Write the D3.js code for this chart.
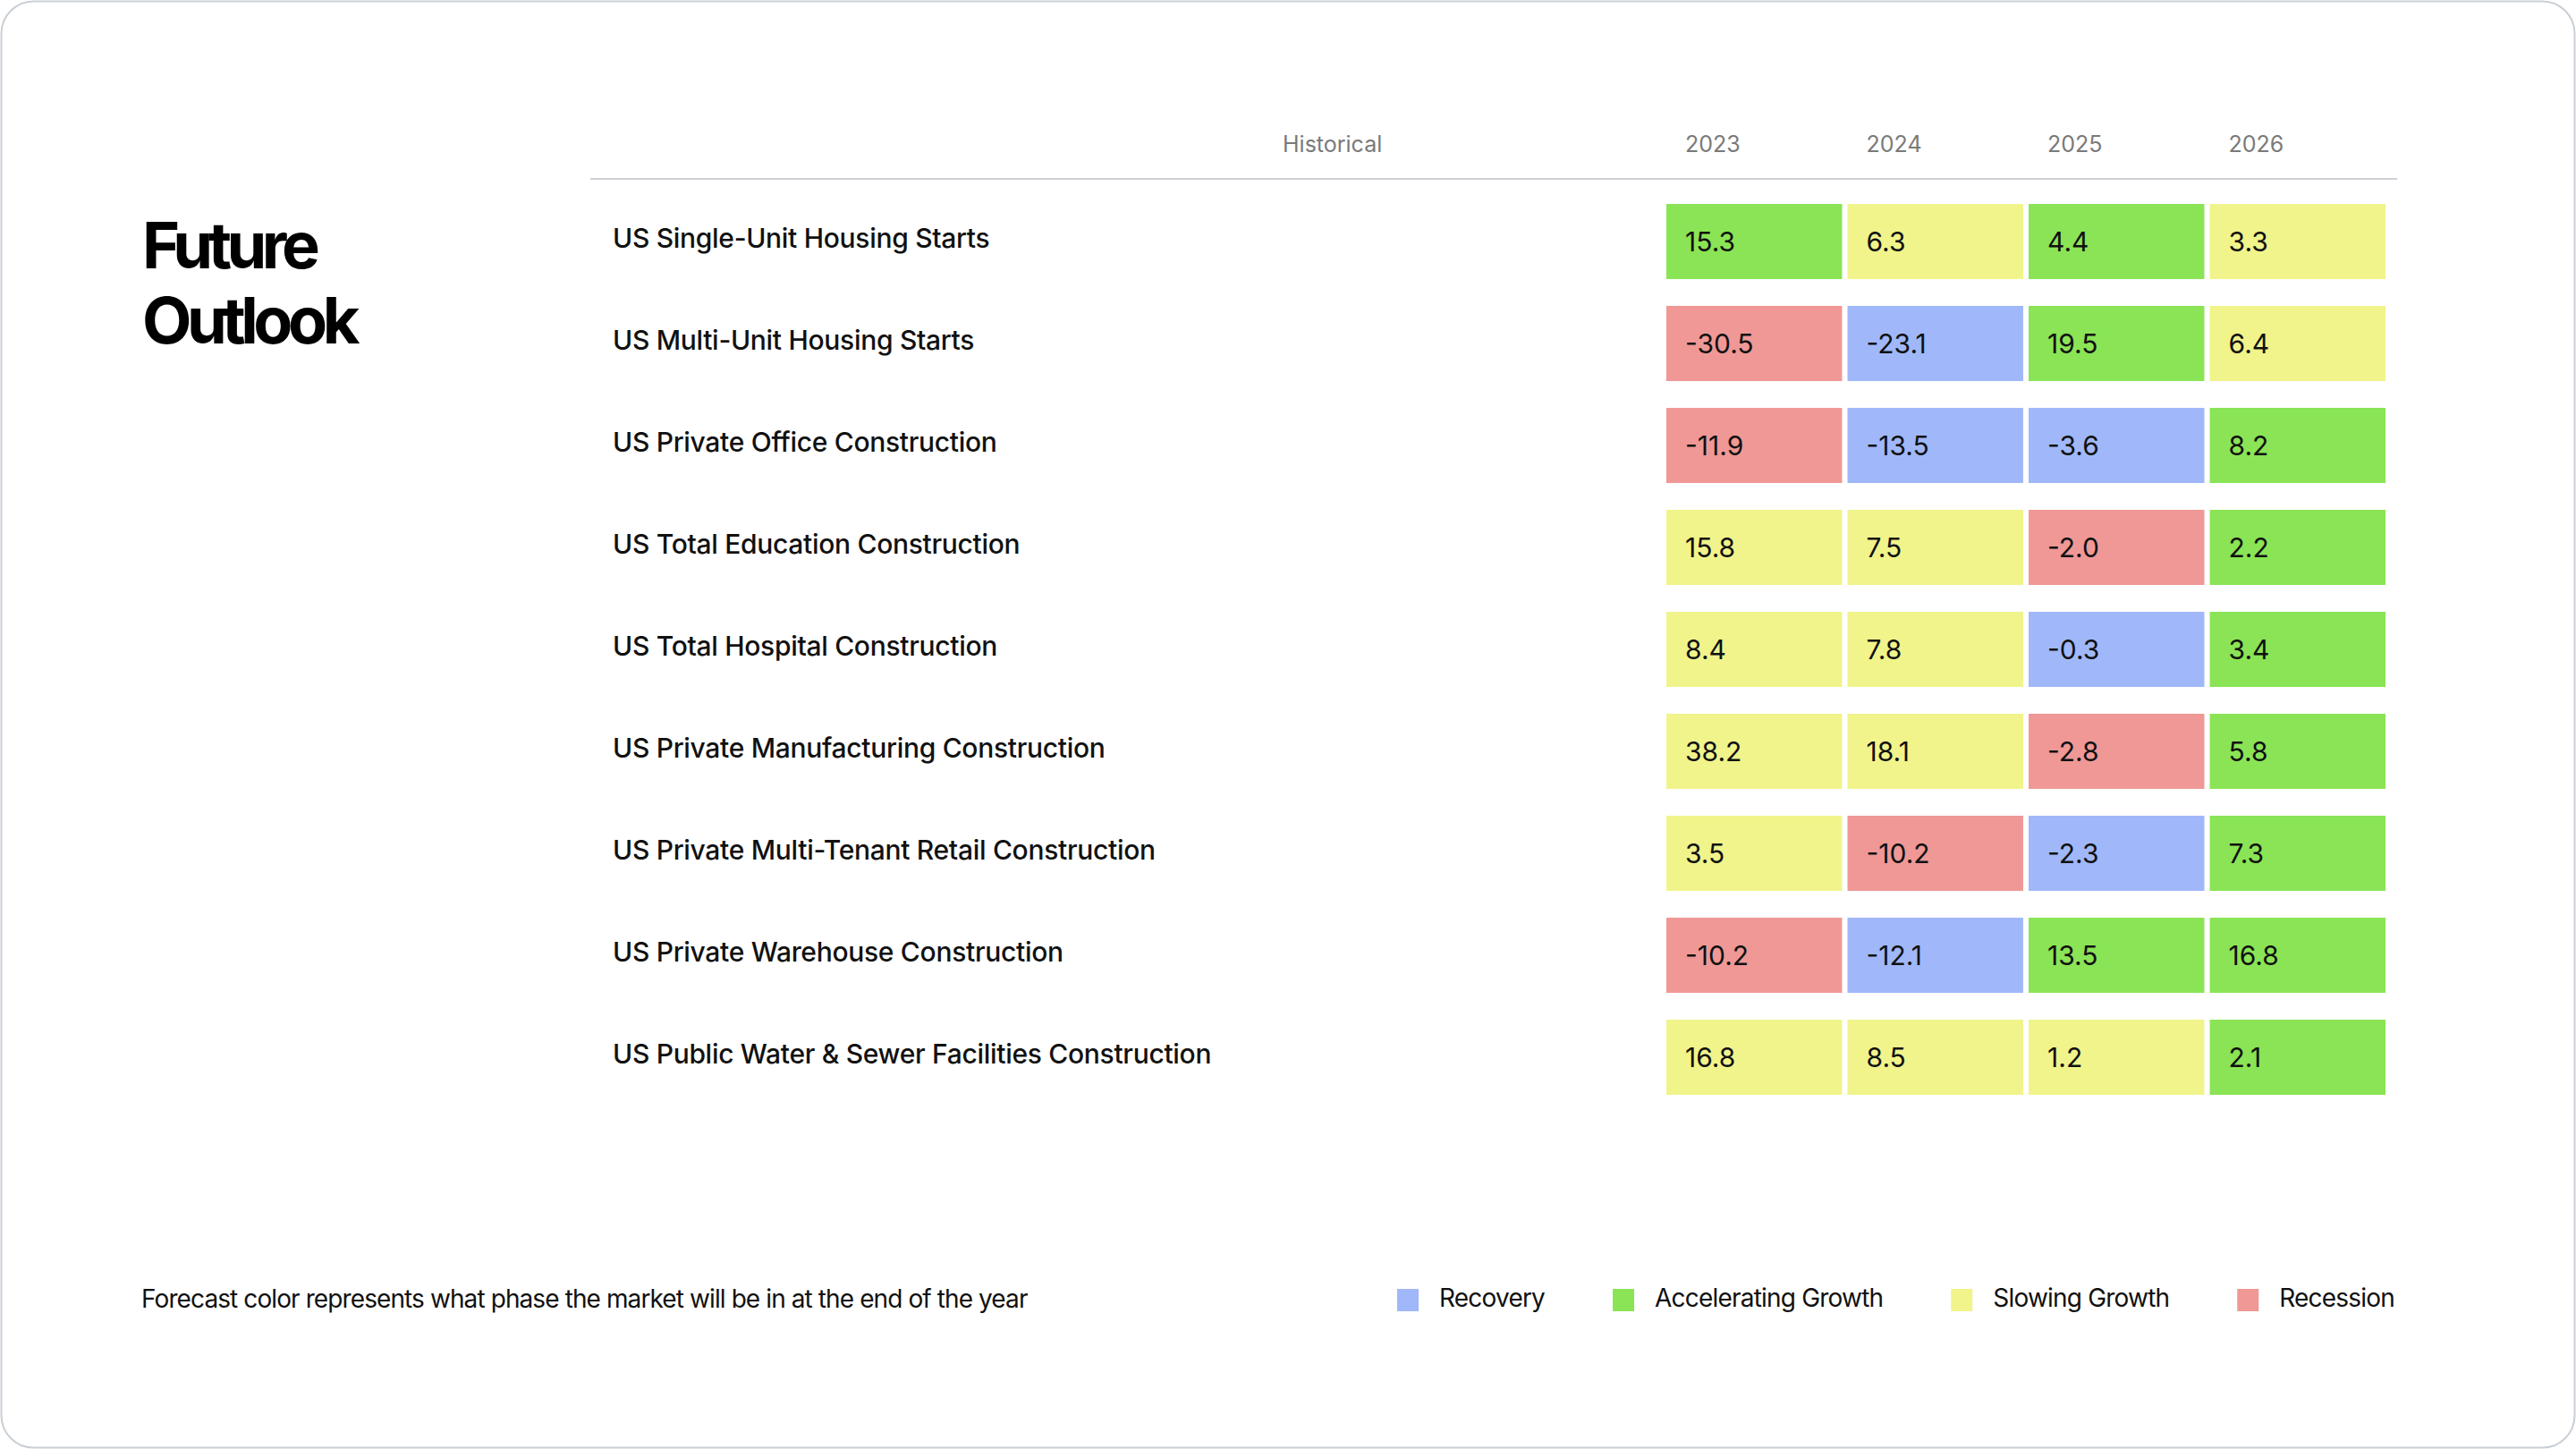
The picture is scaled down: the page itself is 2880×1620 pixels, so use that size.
<!DOCTYPE html>
<html>
<head>
<meta charset="utf-8">
<script src="https://cdn.jsdelivr.net/npm/d3@7/dist/d3.min.js"></script>
<style>
  html, body { margin: 0; padding: 0; background: #ffffff; }
  svg { display: block; }
  text { font-family: Inter, "Noto Sans", sans-serif; }
</style>
</head>
<body>
<svg id="chart" width="2880" height="1620"></svg>
<script>
// ---------- data ----------
const categories = [
  "US Single-Unit Housing Starts",
  "US Multi-Unit Housing Starts",
  "US Private Office Construction",
  "US Total Education Construction",
  "US Total Hospital Construction",
  "US Private Manufacturing Construction",
  "US Private Multi-Tenant Retail Construction",
  "US Private Warehouse Construction",
  "US Public Water & Sewer Facilities Construction"
];
const years = ["2023", "2024", "2025", "2026"];
const historicalLabel = "Historical";

const values2023 = [15.3, -30.5, -11.9, 15.8, 8.4, 38.2, 3.5, -10.2, 16.8];
const values2024 = [6.3, -23.1, -13.5, 7.5, 7.8, 18.1, -10.2, -12.1, 8.5];
const values2025 = [4.4, 19.5, -3.6, -2.0, -0.3, -2.8, -2.3, 13.5, 1.2];
const values2026 = [3.3, 6.4, 8.2, 2.2, 3.4, 5.8, 7.3, 16.8, 2.1];

// phase codes: R = Recovery, A = Accelerating Growth, S = Slowing Growth, X = Recession
const phases2023 = ["A", "X", "X", "S", "S", "S", "S", "X", "S"];
const phases2024 = ["S", "R", "R", "S", "S", "S", "X", "R", "S"];
const phases2025 = ["A", "A", "R", "X", "R", "X", "R", "A", "S"];
const phases2026 = ["S", "S", "A", "A", "A", "A", "A", "A", "A"];

const phaseKeys = ["R", "A", "S", "X"];
const phaseNames = ["Recovery", "Accelerating Growth", "Slowing Growth", "Recession"];
const phaseColors = ["#a0b8f9", "#8ae455", "#f0f48b", "#ef9896"];

const titleLines = ["Future", "Outlook"];
const footnote = "Forecast color represents what phase the market will be in at the end of the year";

// ---------- build table ----------
const seriesValues = [values2023, values2024, values2025, values2026];
const seriesPhases = [phases2023, phases2024, phases2025, phases2026];
const cells = [];
categories.forEach((c, i) => {
  years.forEach((y, j) => {
    cells.push({ category: c, year: y, value: seriesValues[j][i], phase: seriesPhases[j][i] });
  });
});

const fmt = d3.formatLocale({ decimal: ".", thousands: ",", grouping: [3], currency: ["$", ""], minus: "-" }).format(".1f");
const color = d3.scaleOrdinal().domain(phaseKeys).range(phaseColors);
const phaseName = d3.scaleOrdinal().domain(phaseKeys).range(phaseNames);

// ---------- layout ----------
const W = 2880, H = 1620;
const svg = d3.select("#chart");

// card border
svg.append("rect")
  .attr("x", 1.5).attr("y", 1.5)
  .attr("width", W - 3).attr("height", H - 3)
  .attr("rx", 36).attr("ry", 36)
  .attr("fill", "#ffffff")
  .attr("stroke", "#c9cfd5").attr("stroke-width", 2);

const x = d3.scaleBand().domain(years).range([1863, 2667]).paddingInner(0.03).paddingOuter(0);
const y = d3.scaleBand().domain(categories).range([228, 1224]).paddingInner(0.263).paddingOuter(0);

// title
const title = svg.append("text")
  .attr("x", 159).attr("y", 300)
  .attr("font-size", 72).attr("font-weight", 700)
  .attr("letter-spacing", "-5.5px")
  .attr("fill", "#000");
title.selectAll("tspan").data(titleLines).join("tspan")
  .attr("x", 159).attr("dy", (d, i) => i === 0 ? 0 : 84)
  .text(d => d);

// header
svg.append("line")
  .attr("x1", 660).attr("x2", 2680)
  .attr("y1", 200).attr("y2", 200)
  .attr("stroke", "#cdd1d5").attr("stroke-width", 2);

svg.append("text")
  .attr("x", 1434).attr("y", 170)
  .attr("font-size", 25).attr("fill", "#7a7a7a")
  .text(historicalLabel);

svg.append("g").selectAll("text").data(years).join("text")
  .attr("x", d => x(d) + 21).attr("y", 170)
  .attr("font-size", 25).attr("fill", "#7a7a7a")
  .text(d => d);

// row labels
svg.append("g").selectAll("text").data(categories).join("text")
  .attr("x", 685)
  .attr("y", d => y(d) + 49)
  .attr("font-size", 30).attr("font-weight", 500).attr("fill", "#111")
  .attr("letter-spacing", "-0.3px")
  .text(d => d);

// cells
const cg = svg.append("g").selectAll("g").data(cells).join("g");
cg.append("rect")
  .attr("x", d => x(d.year)).attr("y", d => y(d.category))
  .attr("width", x.bandwidth()).attr("height", y.bandwidth())
  .attr("fill", d => color(d.phase));
cg.append("text")
  .attr("x", d => x(d.year) + 21)
  .attr("y", d => y(d.category) + 53)
  .attr("font-size", 30).attr("fill", "#111")
  .text(d => fmt(d.value));

// footnote
svg.append("text")
  .attr("x", 158).attr("y", 1462)
  .attr("font-size", 28).attr("fill", "#111")
  .attr("letter-spacing", "-0.9px")
  .text(footnote);

// legend (right aligned flow layout)
const leg = svg.append("g");
const items = leg.selectAll("g").data(phaseKeys).join("g");
items.append("rect").attr("width", 24).attr("height", 25).attr("y", 1441)
  .attr("fill", d => color(d));
items.append("text").attr("x", 47).attr("y", 1461)
  .attr("font-size", 28).attr("fill", "#111")
  .attr("letter-spacing", "-0.8px")
  .text(d => phaseName(d));
const widths = [];
items.each(function () { widths.push(47 + this.querySelector("text").getComputedTextLength()); });
const gap = 76;
const total = d3.sum(widths) + gap * (widths.length - 1);
let cx = 2677 - total;
items.each(function (d, i) {
  d3.select(this).attr("transform", `translate(${cx},0)`);
  cx += widths[i] + gap;
});
</script>
</body>
</html>
